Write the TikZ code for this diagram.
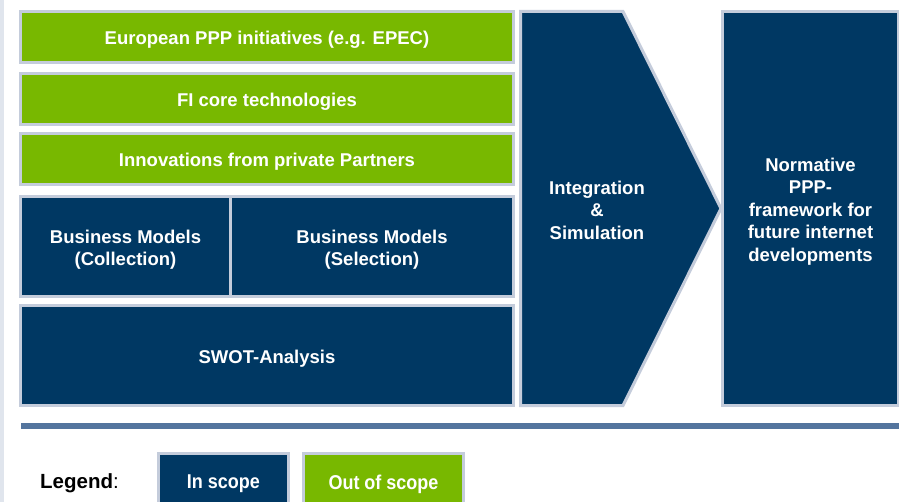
\documentclass[tikz,border=0pt]{standalone}
\usepackage{fontspec}
\setmainfont{Liberation Sans}
\newfontfamily\narrowfont{Liberation Sans}[FakeStretch=0.9]
\usetikzlibrary{positioning}
\definecolor{navyblue}{rgb}{0.0, 0.22, 0.39}
\definecolor{limegreen}{rgb}{0.47, 0.72, 0.0}
\definecolor{framegray}{rgb}{0.77, 0.8, 0.86}
\definecolor{stripgray}{rgb}{0.88, 0.9, 0.93}
\definecolor{rulecolor}{rgb}{0.33, 0.46, 0.62}

\begin{document}
\begin{tikzpicture}[line cap=butt,line join=miter,x=1pt,y=-1pt,
  inscope/.style={draw=framegray,line width=3pt,fill=navyblue,inner sep=0pt},
  outscope/.style={inscope,fill=limegreen},
  boxtext/.style={text=white,align=center,inner sep=0pt,yshift=-3pt,
    font=\bfseries\fontsize{18.5}{22.5}\selectfont},
  legendbox/.style={draw=framegray,line width=3pt,text=white,inner sep=0pt,minimum height=57pt,
    text depth=0pt,font=\narrowfont\bfseries\fontsize{20}{24}\selectfont}]
\clip (0,0) rectangle (899,502);
\fill[white] (0,0) rectangle (899,502);
\fill[stripgray] (0,0) rectangle (4,502);
\node[outscope,minimum width=493pt,minimum height=51pt,label={[boxtext]center:European PPP initiatives (e.g. EPEC)}] (epec) at (267,37) {};
\node[outscope,minimum width=493pt,minimum height=51pt,below=8pt of epec,label={[boxtext]center:FI core technologies}] (core) {};
\node[outscope,minimum width=493pt,minimum height=51pt,below=6pt of core,label={[boxtext]center:Innovations from private Partners}] (innov) {};
\node[inscope,minimum width=210pt,minimum height=100pt,below=9pt of innov.south west,anchor=north west,label={[boxtext]center:Business Models\\(Collection)}] (bmcoll) {};
\node[inscope,minimum width=283pt,minimum height=100pt,right=-3pt of bmcoll,label={[boxtext]center:Business Models\\(Selection)}] (bmsel) {};
\node[inscope,minimum width=493pt,minimum height=100pt,below=6pt of bmcoll.south west,anchor=north west,label={[boxtext]center:SWOT-Analysis}] (swot) {};
\draw[draw=framegray,line width=3pt,fill=navyblue] (520.5,11.5) -- (623,11.5) -- (721,208.5) -- (623,405.5) -- (520.5,405.5) -- cycle;
\node[boxtext,yshift=3pt] (integ) at (597,210) {Integration\\\&\\Simulation};
\node[inscope,minimum width=176pt,minimum height=394pt,label={[boxtext]center:Normative\\PPP-\\framework for\\future internet\\developments}] (norm) at (810.5,208.5) {};
\draw[rulecolor,line width=6pt] (21,426) -- (899,426);
\node[anchor=west,inner sep=0pt,font=\fontsize{20.5}{24}\selectfont] (legend) at (40,483) {\textbf{Legend}:};
\node[legendbox,fill=navyblue,minimum width=130pt] (inlegend) at (223.5,482) {In scope};
\node[legendbox,fill=limegreen,minimum width=160pt,right=12pt of inlegend] (outlegend) {Out of scope};
\end{tikzpicture}
\end{document}
